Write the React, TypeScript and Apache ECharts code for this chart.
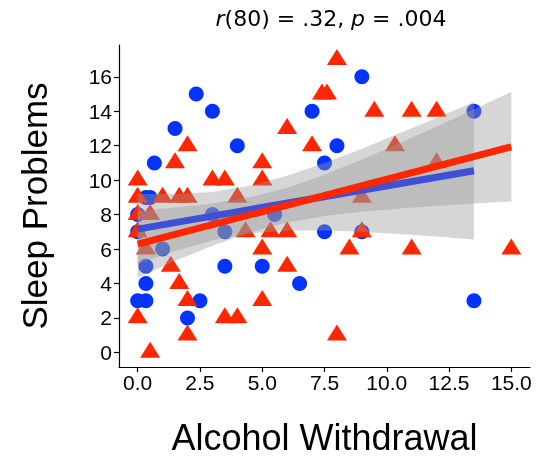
import React, { useEffect, useRef } from "react";
import * as echarts from "echarts";

// ---- data ----
const titleText = "{i|r}(80) = .32, {i|p} = .004";
const xAxisTitle = "Alcohol Withdrawal";
const yAxisTitle = "Sleep Problems";

const xTicks = [0, 2.5, 5, 7.5, 10, 12.5, 15];
const yTicks = [0, 2, 4, 6, 8, 10, 12, 14, 16];

// group 1 (blue circles): [withdrawal, sleep problems]
const bluePoints = [
  [2.35, 15], [3, 14], [1.5, 13], [0.67, 11], [4, 12], [7, 14], [7.5, 11],
  [0.33, 9], [0.5, 9], [9, 16], [13.5, 14], [8, 12], [7.5, 7], [9, 7],
  [13.5, 3], [0, 8], [0, 7], [1, 6], [0.33, 5], [0.33, 4], [3.5, 5], [5, 5],
  [2.5, 3], [0, 3], [0.33, 3], [2, 2], [6.5, 4], [3, 8], [3.5, 7], [5.5, 8],
];

// group 2 (red triangles)
const redPoints = [
  [6, 13], [2, 12], [1.5, 11], [5, 11], [0, 10], [3, 10], [3.5, 10], [5, 10],
  [0, 9], [1, 9], [1.67, 9], [2, 9], [4, 9], [7.4, 15], [7.6, 15], [7, 12],
  [8, 17], [9.5, 14], [11, 14], [12, 14], [10.33, 12], [12, 11], [9, 9], [9, 7],
  [8.5, 6], [11, 6], [15, 6], [8, 1], [0.5, 8], [0, 8], [0.33, 6], [1.33, 5],
  [1.67, 4], [2, 3], [0, 2], [2, 1], [0.5, 0], [3.5, 2], [4, 2], [5, 3],
  [5, 6], [6, 5], [4.33, 7], [5.33, 7], [6, 7], [0, 7],
];

// fitted lines (end points)
const blueFitX = [0, 13.5];
const blueFitY = [7.16, 10.55];
const redFitX = [0, 15];
const redFitY = [6.29, 11.94];

// confidence bands read at several x positions
const blueBandX = [0, 1.5, 3, 4.5, 6, 7.5, 9, 10.5, 12, 13.5];
const blueBandLow = [5.12, 5.89, 6.5, 6.91, 7.08, 7.08, 7.01, 6.88, 6.73, 6.56];
const blueBandHigh = [9.2, 9.19, 9.32, 9.67, 10.26, 11.0, 11.83, 12.72, 13.61, 14.54];
const redBandX = [0, 1.5, 3, 4.5, 6, 7.5, 9, 10.5, 12, 13.5, 15];
const redBandLow = [4.35, 5.3, 6.19, 6.97, 7.54, 7.92, 8.17, 8.35, 8.5, 8.64, 8.76];
const redBandHigh = [8.23, 8.41, 8.65, 9.01, 9.56, 10.32, 11.2, 12.15, 13.12, 14.12, 15.12];

const BLUE = "#0433FF";
const BLUE_LINE = "#0020FF";
const RED = "#FF2600";
const BAND = "rgba(153,153,153,0.4)";

function bandSeries(xs: number[], lo: number[], hi: number[], z: number) {
  return {
    type: "custom",
    z,
    silent: true,
    clip: true,
    encode: { x: 0, y: [1, 2] },
    data: xs.map((x, i) => [x, lo[i], hi[i]]),
    renderItem: (params: any, api: any) => {
      if (params.dataIndex !== 0) return null;
      const pts: number[][] = [];
      for (let i = 0; i < xs.length; i++) pts.push(api.coord([xs[i], hi[i]]));
      for (let i = xs.length - 1; i >= 0; i--) pts.push(api.coord([xs[i], lo[i]]));
      return { type: "polygon", shape: { points: pts }, style: { fill: BAND } };
    },
  };
}

export default function App() {
  const ref = useRef<HTMLDivElement>(null);
  useEffect(() => {
    if (!ref.current) return;
    const chart = echarts.init(ref.current, undefined, { renderer: "svg" });
    const axisFont = { fontFamily: "Liberation Sans", fontSize: 21, color: "#000" };
    chart.setOption({
      animation: false,
      grid: { left: 119, right: 20, top: 45, bottom: 90, containLabel: false },
      xAxis: {
        type: "value",
        min: -0.75,
        max: 15.75,
        axisLine: { show: true, onZero: false, lineStyle: { color: "#000", width: 1.2 } },
        axisTick: { show: true, length: 5, customValues: xTicks, lineStyle: { color: "#000", width: 1.2 } },
        axisLabel: { ...axisFont, margin: 5, customValues: xTicks, formatter: (v: number) => v.toFixed(1) },
        splitLine: { show: false },
      },
      yAxis: {
        type: "value",
        min: -0.85,
        max: 17.85,
        axisLine: { show: true, onZero: false, lineStyle: { color: "#000", width: 1.2 } },
        axisTick: { show: true, length: 5, customValues: yTicks, lineStyle: { color: "#000", width: 1.2 } },
        axisLabel: { ...axisFont, margin: 7, customValues: yTicks, formatter: (v: number) => String(v) },
        splitLine: { show: false },
      },
      graphic: [
        {
          type: "text",
          x: 331,
          y: 18,
          style: {
            text: titleText,
            fontFamily: "DejaVu Sans",
            fontSize: 22,
            fill: "#000",
            align: "center",
            verticalAlign: "middle",
            rich: { i: { fontStyle: "italic", fontFamily: "DejaVu Sans", fontSize: 22, fill: "#000" } },
          },
        },
        {
          type: "text",
          x: 324.5,
          y: 437,
          style: {
            text: xAxisTitle,
            fontFamily: "Liberation Sans",
            fontSize: 36,
            fill: "#000",
            align: "center",
            verticalAlign: "middle",
          },
        },
        {
          type: "text",
          x: 34,
          y: 206,
          rotation: Math.PI / 2,
          style: {
            text: yAxisTitle,
            fontFamily: "Liberation Sans",
            fontSize: 35,
            fill: "#000",
            align: "center",
            verticalAlign: "middle",
          },
        },
      ],
      series: [
        {
          type: "scatter",
          z: 1,
          symbol: "circle",
          symbolSize: 15,
          itemStyle: { color: BLUE, opacity: 1 },
          data: bluePoints,
        },
        {
          type: "scatter",
          z: 1,
          symbol: "triangle",
          symbolSize: [20, 16],
          symbolOffset: [0, -2.6],
          itemStyle: { color: RED, opacity: 1 },
          data: redPoints,
        },
        bandSeries(blueBandX, blueBandLow, blueBandHigh, 2),
        {
          type: "line",
          z: 3,
          symbol: "none",
          lineStyle: { color: BLUE_LINE, width: 7, cap: "butt" },
          data: blueFitX.map((x, i) => [x, blueFitY[i]]),
        },
        bandSeries(redBandX, redBandLow, redBandHigh, 4),
        {
          type: "line",
          z: 5,
          symbol: "none",
          lineStyle: { color: RED, width: 7, cap: "butt" },
          data: redFitX.map((x, i) => [x, redFitY[i]]),
        },
      ],
    });
    return () => chart.dispose();
  }, []);
  return <div ref={ref} style={{ position: "fixed", left: 0, top: 0, width: 550, height: 457 }} />;
}
